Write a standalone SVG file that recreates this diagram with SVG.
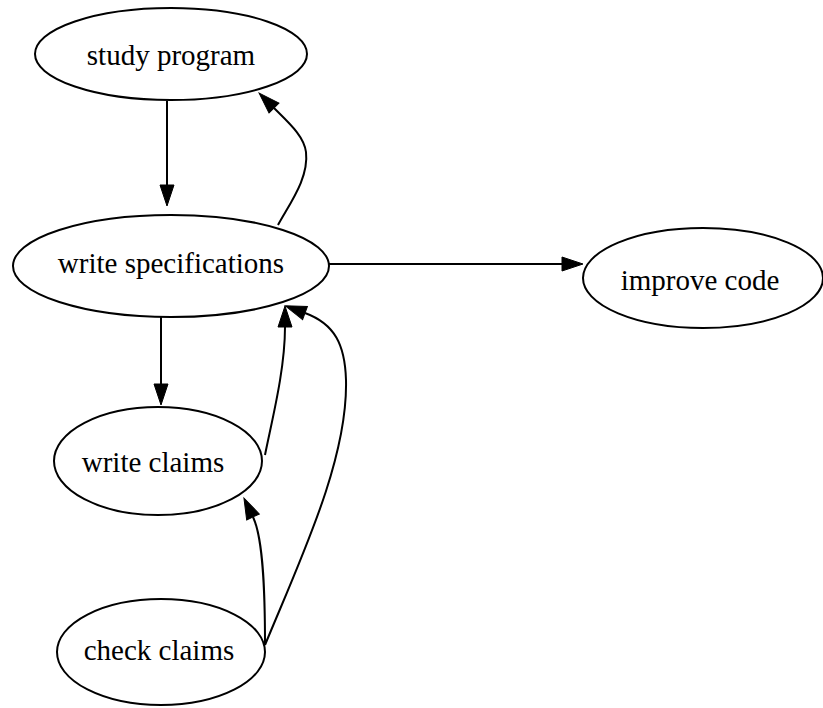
<svg xmlns="http://www.w3.org/2000/svg" width="823" height="708" viewBox="0 0 823 708">
<style>
.node ellipse{fill:#fff;stroke:#000;stroke-width:2}
.node text{font-family:"Liberation Serif","Times New Roman",serif;font-size:29px;fill:#000;text-anchor:middle}
.edges path,.edges line{fill:none;stroke:#000;stroke-width:2;marker-end:url(#ah)}
</style>
<defs>
<marker id="ah" markerUnits="userSpaceOnUse" markerWidth="22" markerHeight="16" refX="0" refY="7" orient="auto" overflow="visible">
<path d="M0,0 L21,7 L0,14 z" fill="#000" stroke="#000" stroke-width="1"/>
</marker>
</defs>
<rect width="823" height="708" fill="#fff"/>
<g class="edges" id="edges">
<line x1="167" y1="101" x2="167" y2="185"/>
<path d="M278,225 C290,203 309,178 306,152 C304,136 289,123 274,108"/>
<line x1="329" y1="264" x2="562" y2="264"/>
<line x1="161" y1="317" x2="161" y2="384"/>
<path d="M265,455 C272,420 285,370 285,327"/>
<path d="M265,645 C300,560 348,460 346,380 C345,345 335,324 305,313"/>
<path d="M265,645 C265,600 264,540 253,517"/>
</g>
<g class="node" id="study_program"><ellipse cx="171" cy="54" rx="136" ry="46"/><text x="171" y="65">study program</text></g>
<g class="node" id="write_specifications"><ellipse cx="171" cy="266" rx="158" ry="51"/><text x="171" y="273">write specifications</text></g>
<g class="node" id="improve_code"><ellipse cx="703" cy="278" rx="120" ry="50"/><text x="700" y="290">improve code</text></g>
<g class="node" id="write_claims"><ellipse cx="158" cy="461" rx="104" ry="54"/><text x="153" y="472">write claims</text></g>
<g class="node" id="check_claims"><ellipse cx="161" cy="652" rx="104" ry="53"/><text x="159" y="660">check claims</text></g>
</svg>
